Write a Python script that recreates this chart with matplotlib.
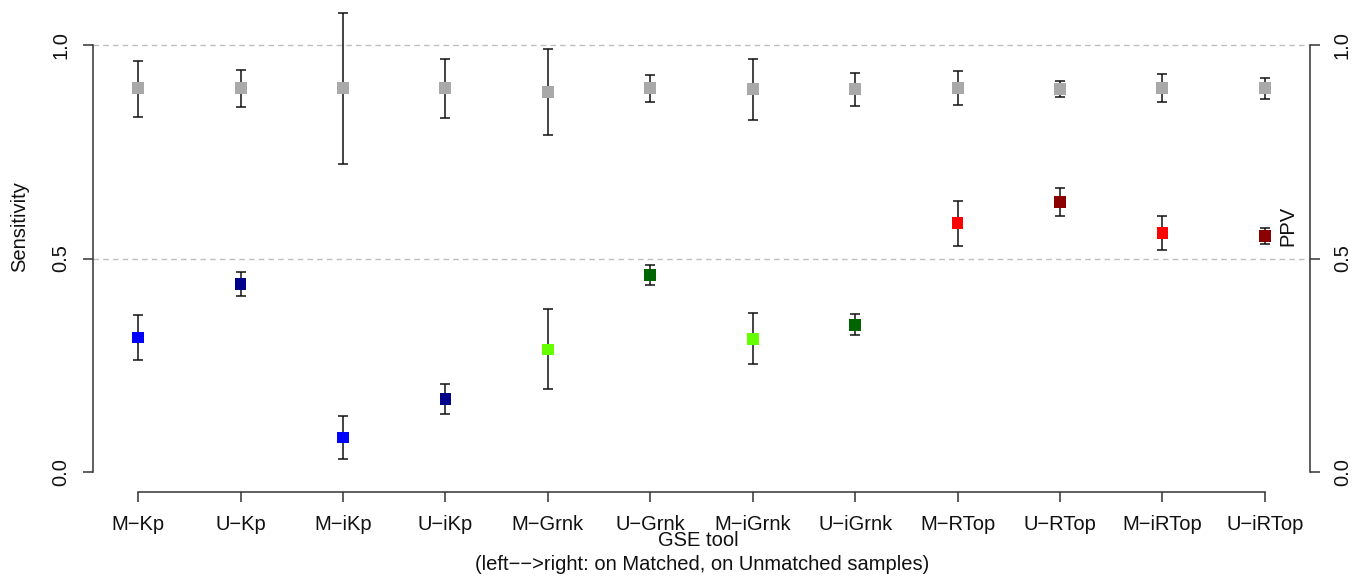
import matplotlib.pyplot as plt
import numpy as np

plt.rcParams['font.family'] = ['Liberation Sans', 'DejaVu Sans']

# GSE tools, left->right: Matched, Unmatched
tools = ["M\u2212Kp", "U\u2212Kp", "M\u2212iKp", "U\u2212iKp",
         "M\u2212Grnk", "U\u2212Grnk", "M\u2212iGrnk", "U\u2212iGrnk",
         "M\u2212RTop", "U\u2212RTop", "M\u2212iRTop", "U\u2212iRTop"]

# sensitivity (coloured squares) with lower / upper bounds
sens = [0.315, 0.440, 0.081, 0.171, 0.287, 0.461, 0.312, 0.344, 0.583, 0.632, 0.560, 0.553]
sens_lo = [0.262, 0.412, 0.031, 0.135, 0.194, 0.438, 0.253, 0.320, 0.529, 0.600, 0.520, 0.533]
sens_hi = [0.368, 0.469, 0.131, 0.206, 0.381, 0.485, 0.372, 0.369, 0.635, 0.666, 0.600, 0.571]
sens_col = ["#0000FF", "#00008B", "#0000FF", "#00008B",
            "#66FF00", "#006400", "#66FF00", "#006400",
            "#FF0000", "#8B0000", "#FF0000", "#8B0000"]

# PPV (grey squares) with lower / upper bounds
ppv = [0.899, 0.899, 0.899, 0.899, 0.891, 0.899, 0.896, 0.896, 0.899, 0.898, 0.899, 0.899]
ppv_lo = [0.832, 0.854, 0.721, 0.829, 0.789, 0.867, 0.824, 0.857, 0.859, 0.879, 0.866, 0.874]
ppv_hi = [0.963, 0.941, 1.076, 0.967, 0.991, 0.930, 0.967, 0.934, 0.938, 0.916, 0.933, 0.923]

x = np.arange(1, len(tools) + 1)
sens, sens_lo, sens_hi = map(np.array, (sens, sens_lo, sens_hi))
ppv, ppv_lo, ppv_hi = map(np.array, (ppv, ppv_lo, ppv_hi))

W, H = 1359, 576
fs = 14.5
fig = plt.figure(figsize=(W / 100, H / 100), dpi=100)
ax = fig.add_axes([93 / W, 84 / H, 1217 / W, 464 / H])
ax.set_xlim(0.56, 12.44)
ax.set_ylim(-0.0468, 1.0398)

# reference lines
for yv in (0.5, 1.0):
    ax.axhline(yv, color="#BEBEBE", lw=1.0, ls=(0, (4, 3)), zorder=1)

ebar = dict(fmt="none", ecolor="#111111", elinewidth=1.1, capsize=3.5,
            capthick=1.1, zorder=2, clip_on=False)
ax.errorbar(x, ppv, yerr=[ppv - ppv_lo, ppv_hi - ppv], **ebar)
ax.errorbar(x, sens, yerr=[sens - sens_lo, sens_hi - sens], **ebar)
ax.scatter(x, ppv, marker="s", s=72, color="#A9A9A9", zorder=3, lw=0, clip_on=False)
ax.scatter(x, sens, marker="s", s=72, c=sens_col, zorder=3, lw=0)

# R-style detached axes
ax.spines["top"].set_visible(False)
for s in ("left", "right", "bottom"):
    ax.spines[s].set_color("#333333")
    ax.spines[s].set_linewidth(1.1)
ax.spines["left"].set_bounds(0, 1)
ax.spines["right"].set_bounds(0, 1)
ax.spines["bottom"].set_bounds(1, 12)

ax.set_xticks(x)
ax.set_xticklabels(tools)
ax.set_yticks([0.0, 0.5, 1.0])
ax.set_yticklabels(["0.0", "0.5", "1.0"])
ax.tick_params(axis="x", direction="out", length=7.5, width=1.1, color="#333333",
               labelsize=fs, pad=9, labelcolor="#111111")
ax.tick_params(axis="y", direction="out", length=7.5, width=1.1, color="#333333",
               labelsize=fs, pad=9, labelrotation=90, labelcolor="#111111",
               left=True, right=True, labelleft=True, labelright=True)
for t in ax.yaxis.get_major_ticks():
    t.label1.set_va("center")
    t.label2.set_va("center")

fig.text(20 / W, 1 - 227 / H, "Sensitivity", rotation=90, ha="center", va="center",
         fontsize=fs, color="#111111")
fig.text(1288 / W, 1 - 226 / H, "PPV", rotation=90, ha="center", va="center",
         fontsize=fs, color="#111111")
fig.text(698 / W, 1 - 541 / H, "GSE tool", ha="center", va="center",
         fontsize=fs, color="#111111")
fig.text(702 / W, 1 - 564 / H, "(left\u2212\u2212>right: on Matched, on Unmatched samples)",
         ha="center", va="center", fontsize=fs, color="#111111")

fig.savefig("out.png", dpi=100)
